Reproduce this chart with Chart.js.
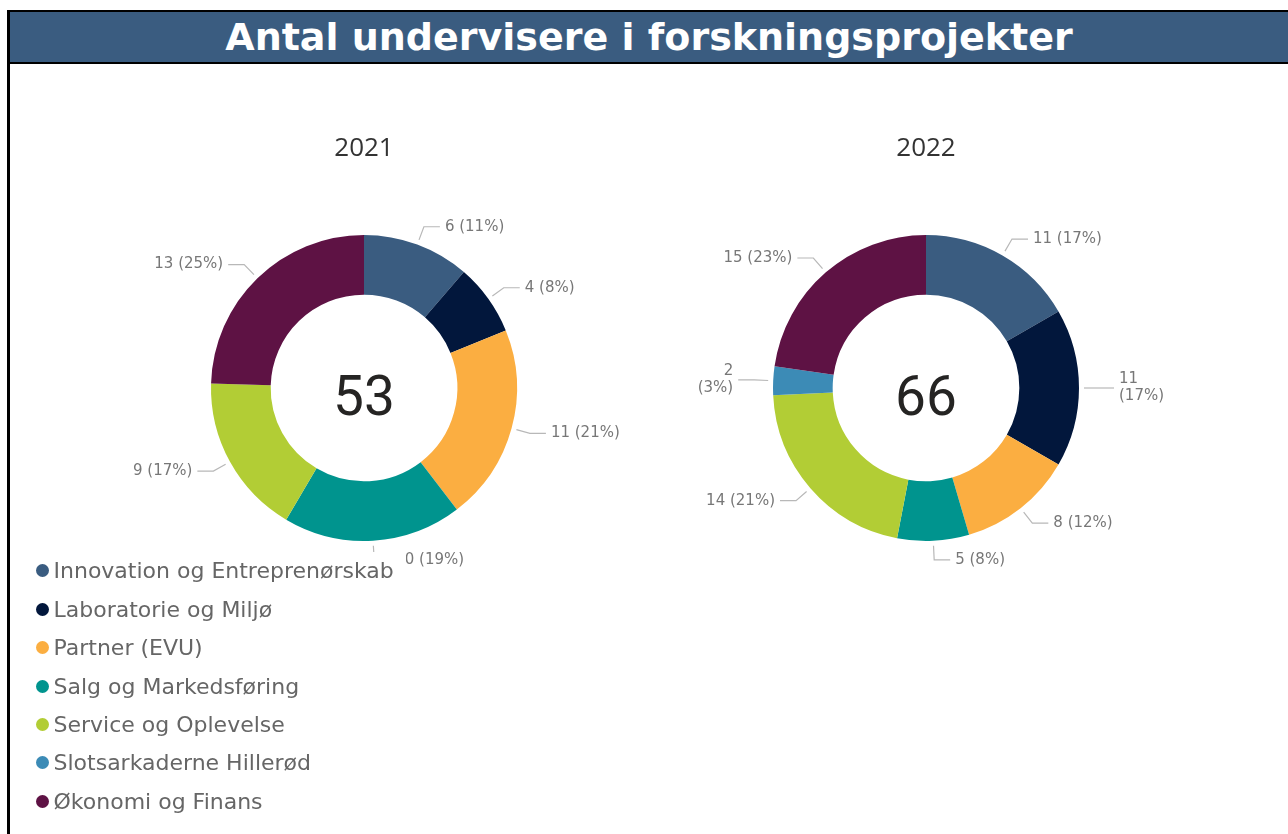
<!DOCTYPE html>
<html><head><meta charset="utf-8">
<script src="https://cdn.jsdelivr.net/npm/chart.js@4.4.1/dist/chart.umd.min.js"></script>
<style>
html,body{margin:0;padding:0;background:#fff;width:1288px;height:834px;overflow:hidden;font-family:'DejaVu Sans',sans-serif;}
#frame{position:absolute;left:7px;top:10px;width:1290px;height:830px;border-left:3px solid #000;border-top:2px solid #000;}
#titlebar{position:absolute;left:10px;top:12px;width:1278px;height:50px;background:#3A5C80;border-bottom:2px solid #000;color:#fff;font:bold 38px 'DejaVu Sans',sans-serif;text-align:center;line-height:50px;white-space:nowrap;}
canvas{position:absolute;}
#c1{left:110px;top:125px;}
#c2{left:695px;top:125px;}
#legend{position:absolute;left:35.5px;top:551.8px;}
.li{height:38.4px;display:flex;align-items:center;}
.dot{width:13px;height:13px;border-radius:50%;margin-right:5px;flex:none;}
.lt{font:22px 'DejaVu Sans',sans-serif;color:#666;background:#fff;padding:6px 12px 6px 0;}
</style>
</head><body>
<div id="frame"></div>
<div id="titlebar">Antal undervisere i forskningsprojekter</div>
<canvas id="c1" width="530" height="460"></canvas>
<canvas id="c2" width="480" height="460"></canvas>
<div id="legend"></div>
<script>
const categories = ['Innovation og Entreprenørskab','Laboratorie og Miljø','Partner (EVU)','Salg og Markedsføring','Service og Oplevelse','Slotsarkaderne Hillerød','Økonomi og Finans'];
const colors = ['#3A5C80','#02173C','#FBAE41','#00948E','#B2CD35','#3C8BB6','#5E1244'];
const years = ['2021','2022'];
const values2021 = [6,4,11,10,9,0,13];
const values2022 = [11,11,8,5,14,2,15];

const outLabels = {
  id:'outLabels',
  afterDatasetsDraw(chart){
    const ctx=chart.ctx; const meta=chart.getDatasetMeta(0); const data=chart.data.datasets[0].data;
    const total=data.reduce((a,b)=>a+b,0);
    ctx.save();
    ctx.font='15px "DejaVu Sans"';
    meta.data.forEach((arc,i)=>{
      const v=data[i]; if(!v) return;
      const p=arc.getProps(['x','y','startAngle','endAngle','outerRadius'],true);
      const a=(p.startAngle+p.endAngle)/2;
      const c=Math.cos(a), s=Math.sin(a);
      const r=p.outerRadius;
      const x0=p.x+c*(r+5), y0=p.y+s*(r+5);
      const x1=p.x+c*(r+19), y1=p.y+s*(r+19);
      const right=c>=0;
      const x2=x1+(right?16:-16);
      ctx.strokeStyle='#b8b8b8'; ctx.lineWidth=1.2;
      ctx.beginPath(); ctx.moveTo(x0,y0); ctx.lineTo(x1,y1); ctx.lineTo(x2,y1); ctx.stroke();
      const pct=Math.round(v/total*100);
      const txt=v+' ('+pct+'%)';
      const tx=x2+(right?5:-5);
      const w=ctx.measureText(txt).width;
      let lines=[txt];
      if((right && tx+w>chart.width-2)||(!right && tx-w<2)) lines=[String(v),'('+pct+'%)'];
      ctx.fillStyle='#777'; ctx.textAlign=right?'left':'right'; ctx.textBaseline='middle';
      const lh=17;
      lines.forEach((t,k)=>ctx.fillText(t,tx,y1+(k-(lines.length-1)/2)*lh));
    });
    ctx.restore();
  }
};
const centerText = {
  id:'centerText',
  afterDatasetsDraw(chart){
    const ctx=chart.ctx; const arc=chart.getDatasetMeta(0).data[0];
    const total=chart.data.datasets[0].data.reduce((a,b)=>a+b,0);
    ctx.save();
    ctx.font='400 55px "Liberation Sans Narrow", Roboto, sans-serif';
    ctx.fillStyle='#252423'; ctx.textAlign='center'; ctx.textBaseline='alphabetic';
    ctx.fillText(String(total),arc.x,arc.y+27);
    ctx.restore();
  }
};

function make(id, year, values, padLR){
  new Chart(document.getElementById(id),{
    type:'doughnut',
    data:{labels:categories,datasets:[{data:values,backgroundColor:colors,borderWidth:0,hoverOffset:0}]},
    options:{
      responsive:false,animation:false,devicePixelRatio:1,events:[],
      cutout:'61%',
      layout:{padding:{top:0,bottom:44,left:padLR[0],right:padLR[1]}},
      plugins:{
        legend:{display:false},tooltip:{enabled:false},
        title:{display:true,text:year,color:'#333',font:{family:'"Open Sans"',size:26,weight:'normal'},padding:{top:8,bottom:70.8}}
      }
    },
    plugins:[outLabels,centerText]
  });
}

const leg=document.getElementById('legend');
categories.forEach((c,i)=>{
  const d=document.createElement('div'); d.className='li';
  d.innerHTML='<span class="dot" style="background:'+colors[i]+'"></span><span class="lt">'+c+'</span>';
  leg.appendChild(d);
});

Promise.all([
  document.fonts.load('26px "Open Sans"'),
  document.fonts.load('15px "DejaVu Sans"'),
  document.fonts.load('55px "Liberation Sans Narrow"'),
  document.fonts.load('55px Roboto'),
  document.fonts.load('bold 38px "DejaVu Sans"')
]).catch(()=>{}).then(()=>{
  make('c1',years[0],values2021,[101,123]);
  make('c2',years[1],values2022,[78,96]);
});
</script>
</body></html>
